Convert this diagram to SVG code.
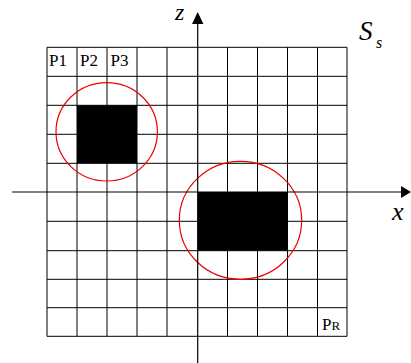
<svg xmlns="http://www.w3.org/2000/svg" width="411" height="363" viewBox="0 0 411 363">
<style>
.grid line{stroke:#000;stroke-width:1}
.ring{fill:none;stroke:#e00;stroke-width:1.2}
</style>
<rect width="411" height="363" fill="#fff"/>
<g id="blocks">
<rect x="77" y="105.3" width="60" height="58" fill="#000"/>
<rect x="197.7" y="192" width="90" height="58.7" fill="#000"/>
</g>
<g id="grid" class="grid">
<line x1="47" y1="47.3" x2="47" y2="336.3"/>
<line x1="77" y1="47.3" x2="77" y2="336.3"/>
<line x1="107" y1="47.3" x2="107" y2="336.3"/>
<line x1="137" y1="47.3" x2="137" y2="336.3"/>
<line x1="167" y1="47.3" x2="167" y2="336.3"/>
<line x1="227.5" y1="47.3" x2="227.5" y2="336.3"/>
<line x1="257.5" y1="47.3" x2="257.5" y2="336.3"/>
<line x1="287.5" y1="47.3" x2="287.5" y2="336.3"/>
<line x1="317.5" y1="47.3" x2="317.5" y2="336.3"/>
<line x1="347" y1="47.3" x2="347" y2="336.3"/>
<line x1="47" y1="47.3" x2="347" y2="47.3"/>
<line x1="47" y1="76.3" x2="347" y2="76.3"/>
<line x1="47" y1="105.3" x2="347" y2="105.3"/>
<line x1="47" y1="134.3" x2="347" y2="134.3"/>
<line x1="47" y1="163.3" x2="347" y2="163.3"/>
<line x1="47" y1="221.3" x2="347" y2="221.3"/>
<line x1="47" y1="250.7" x2="347" y2="250.7"/>
<line x1="47" y1="279.3" x2="347" y2="279.3"/>
<line x1="47" y1="307.7" x2="347" y2="307.7"/>
<line x1="47" y1="336.3" x2="347" y2="336.3"/>
</g>
<g id="rings">
<ellipse class="ring" cx="106.7" cy="131.8" rx="50.7" ry="49.2"/>
<ellipse class="ring" cx="240.5" cy="220.3" rx="61.2" ry="59"/>
</g>
<g id="axes">
<line x1="12" y1="192" x2="402" y2="192" stroke="#000" stroke-width="1.2"/>
<polygon points="411,192 401,186 401,198" fill="#000"/>
<line x1="197.7" y1="363" x2="197.7" y2="23" stroke="#000" stroke-width="1.2"/>
<polygon points="197.7,12 192,24 203.4,24" fill="#000"/>
</g>
<g id="labels" font-family="Liberation Serif, Times New Roman, serif" fill="#000">
<text x="49" y="66" font-size="17">P1</text>
<text x="80" y="66" font-size="17">P2</text>
<text x="110.5" y="66" font-size="17">P3</text>
<text x="322" y="330" font-size="17">P<tspan font-size="13">R</tspan></text>
<text x="175" y="20" font-size="24" font-style="italic">z</text>
<text x="392" y="220" font-size="26" font-style="italic">x</text>
<text x="359" y="40" font-size="27" font-style="italic">S</text>
<text x="376" y="48" font-size="16" font-style="italic">s</text>
</g>
</svg>
